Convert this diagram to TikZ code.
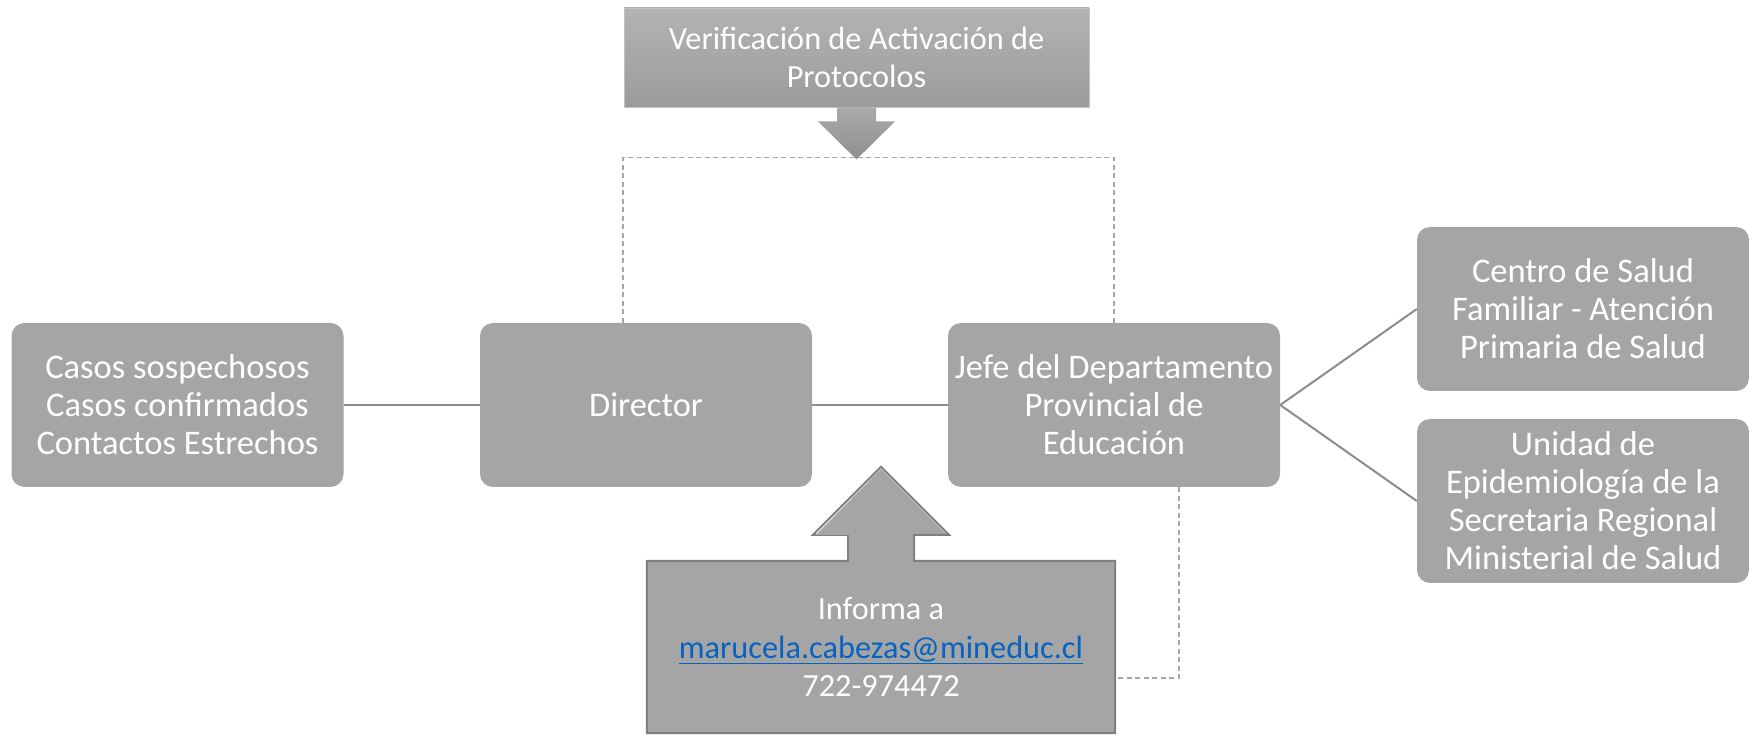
\documentclass[tikz,border=0pt]{standalone}
\usepackage{fontspec}
\setmainfont{Carlito}
\usepackage{tikz}
\usetikzlibrary{positioning,calc}
\definecolor{boxgray}{HTML}{A5A5A5}
\definecolor{linegray}{HTML}{8C8C8C}
\definecolor{dashgray}{HTML}{A6A6A6}
\definecolor{edgegray}{HTML}{7F7F7F}
\definecolor{linkblue}{HTML}{0563C1}

\begin{document}
\begin{tikzpicture}[x=1pt,y=1pt]
\tikzset{every node/.style={font=\fontsize{34.5}{38}\selectfont,text=white,align=center,inner sep=0pt}}
\tikzset{roundbox/.style={fill=boxgray,rounded corners=13pt,minimum width=332pt,minimum height=164pt}}
\tikzset{smalltext/.style={font=\fontsize{32.3}{38.5}\selectfont}}
\tikzset{joinline/.style={draw=linegray,line width=2pt}}
\tikzset{dashline/.style={draw=dashgray,line width=1.2pt,dash pattern=on 5pt off 3.5pt}}
\useasboundingbox (0,0) rectangle (1749,734);
 \node[roundbox] (casos) at (177.5,329) {Casos sospechosos\\Casos confirmados\\Contactos Estrechos};
 \node[roundbox] (director) at (646,329) {Director};
 \node[roundbox] (jefe) at (1114,329) {Jefe del Departamento\\Provincial de\\Educación};
 \node[roundbox] (centro) at (1583,425) {Centro de Salud\\Familiar - Atención\\Primaria de Salud};
 \node[roundbox] (unidad) at (1583,233) {Unidad de\\Epidemiología de la\\Secretaria Regional\\Ministerial de Salud};
 \node[smalltext,top color=black!30,bottom color=black!39,draw=black!24,line width=0.8pt,
   minimum width=465pt,minimum height=99pt] (verif) at (856.5,676.5) {Verificación de Activación de\\Protocolos};
 \node[smalltext,fill=boxgray,minimum width=468pt,minimum height=172pt] (informa) at (881,87)
   {Informa a\\{\color{linkblue}\underline{marucela.cabezas@mineduc.cl}}\\722-974472};
 \draw[draw=edgegray,line width=2pt] (informa.north west) -- ([xshift=-33pt]informa.north) -- ++(0,26)
   -- ++(-35,0) -- ([yshift=94pt]informa.north) -- ++(68,-68) -- ++(-35,0) -- ([xshift=33pt]informa.north)
   -- (informa.north east) -- (informa.south east) -- (informa.south west) -- cycle;
 \fill[fill=boxgray] ([xshift=-32pt,yshift=-1pt]informa.north) -- ++(0,27) -- ++(-33,0) -- ([yshift=92pt]informa.north)
   -- ++(65,-65) -- ++(-33,0) -- ++(0,-27) -- cycle;
 \shade[top color=black!33,bottom color=black!44] ([xshift=-19.5pt]verif.south) -- ++(0,-14) -- ++(-19,0)
   -- ([yshift=-52pt]verif.south) -- ++(38.5,38) -- ++(-19,0) -- ++(0,14) -- cycle;
 \draw[joinline] (casos.east) -- (director.west);
 \draw[joinline] (director.east) -- (jefe.west);
 \draw[joinline] (jefe.east) -- (centro.west);
 \draw[joinline] (jefe.east) -- (unidad.west);
 \draw[dashline] ([xshift=-23pt]director.north) -- ++(0,165) -| (jefe.north);
 \draw[dashline] ([xshift=65pt]jefe.south) |- ([yshift=-31pt]informa.east);
\end{tikzpicture}
\end{document}
